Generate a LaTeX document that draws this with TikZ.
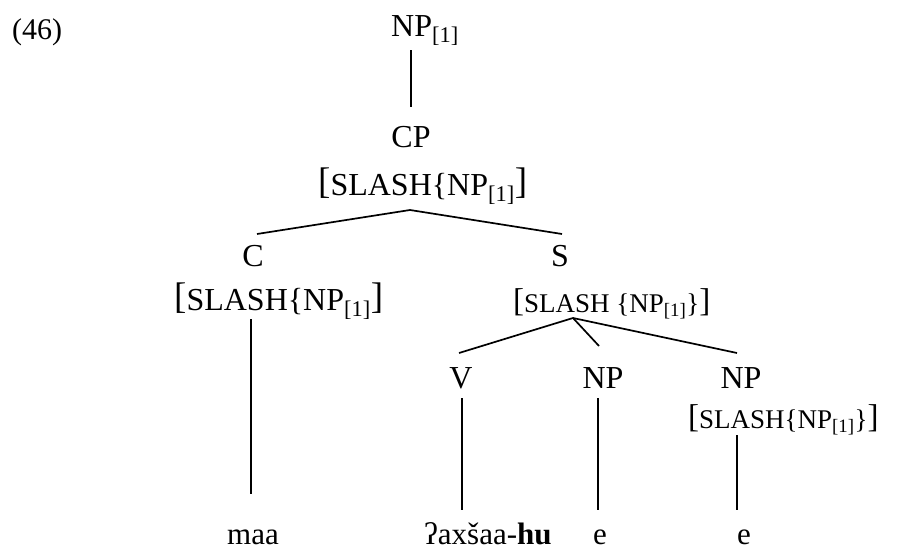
\documentclass[tikz,border=0pt]{standalone}
\usepackage{fontspec}
\setmainfont{Liberation Serif}
\newcommand{\sbx}[1]{\textsubscript{#1}}
\newcommand{\bbr}[1]{{\fontsize{37}{37}\selectfont\raisebox{1.5pt}{#1}}}
\newcommand{\sbr}[1]{{\fontsize{33}{33}\selectfont\raisebox{1pt}{#1}}}
\begin{document}
\begin{tikzpicture}[x=1pt,y=-1pt,
  lab/.style={inner sep=0pt,anchor=base,font=\fontsize{32}{36}\selectfont},
  word/.style={inner sep=0pt,anchor=base,font=\fontsize{31}{36}\selectfont},
  feat/.style={inner sep=0pt,anchor=base west,font=\fontsize{32}{36}\selectfont},
  sfeat/.style={inner sep=0pt,anchor=base west,font=\fontsize{27}{32}\selectfont},
  edge/.style={line width=1.7pt}]
\useasboundingbox (0,0) rectangle (905,549);
\fill[white] (0,0) rectangle (905,549);
% labels
\node[inner sep=0pt,anchor=base west,font=\fontsize{30}{34}\selectfont] (ex) at (12,39) {(46)};
\node[feat] (np1) at (391,36) {NP\sbx{[1]}};
\node[lab] (cp) at (411,147) {CP};
\node[feat] (cpf) at (318,195) {\bbr{[}SLASH\{NP\sbx{[1]}\bbr{]}};
\node[lab] (c) at (253,266) {C};
\node[feat] (cf) at (174,310) {\bbr{[}SLASH\{NP\sbx{[1]}\bbr{]}};
\node[lab] (s) at (560,266) {S};
\node[sfeat] (sf) at (513,312) {\sbr{[}SLASH \{NP\sbx{[1]}\}\sbr{]}};
\node[lab] (v) at (461,388) {V};
\node[lab] (np2) at (603,388) {NP};
\node[lab] (np3) at (741,388) {NP};
\node[sfeat] (np3f) at (688,428) {\sbr{[}SLASH\{NP\sbx{[1]}\}\sbr{]}};
\node[word] (maa) at (253,544) {maa};
\node[word,anchor=base west] (ax) at (424,544) {ʔaxšaa-\textbf{hu}};
\node[word] (e1) at (600,544) {e};
\node[word] (e2) at (744,544) {e};
% line ends
\coordinate (np1b) at (411,50);
\coordinate (cpt) at (411,107);
\coordinate (cpb) at (410,210);
\coordinate (ct) at (257,234);
\coordinate (st) at (562,234);
\coordinate (cb) at (251,319);
\coordinate (maat) at (251,494);
\coordinate (sb) at (573,318);
\coordinate (vt) at (459,353);
\coordinate (np2t) at (599,346);
\coordinate (np3t) at (737,353);
\coordinate (vb) at (462,398);
\coordinate (axt) at (462,510);
\coordinate (np2b) at (598,398);
\coordinate (e1t) at (598,510);
\coordinate (np3b) at (737,435);
\coordinate (e2t) at (737,510);
% edges
\draw[edge] (np1b) -- (cpt);
\draw[edge] (ct) -- (cpb) -- (st);
\draw[edge] (cb) -- (maat);
\draw[edge] (vt) -- (sb) -- (np3t);
\draw[edge] (sb) -- (np2t);
\draw[edge] (vb) -- (axt);
\draw[edge] (np2b) -- (e1t);
\draw[edge] (np3b) -- (e2t);
\end{tikzpicture}
\end{document}
